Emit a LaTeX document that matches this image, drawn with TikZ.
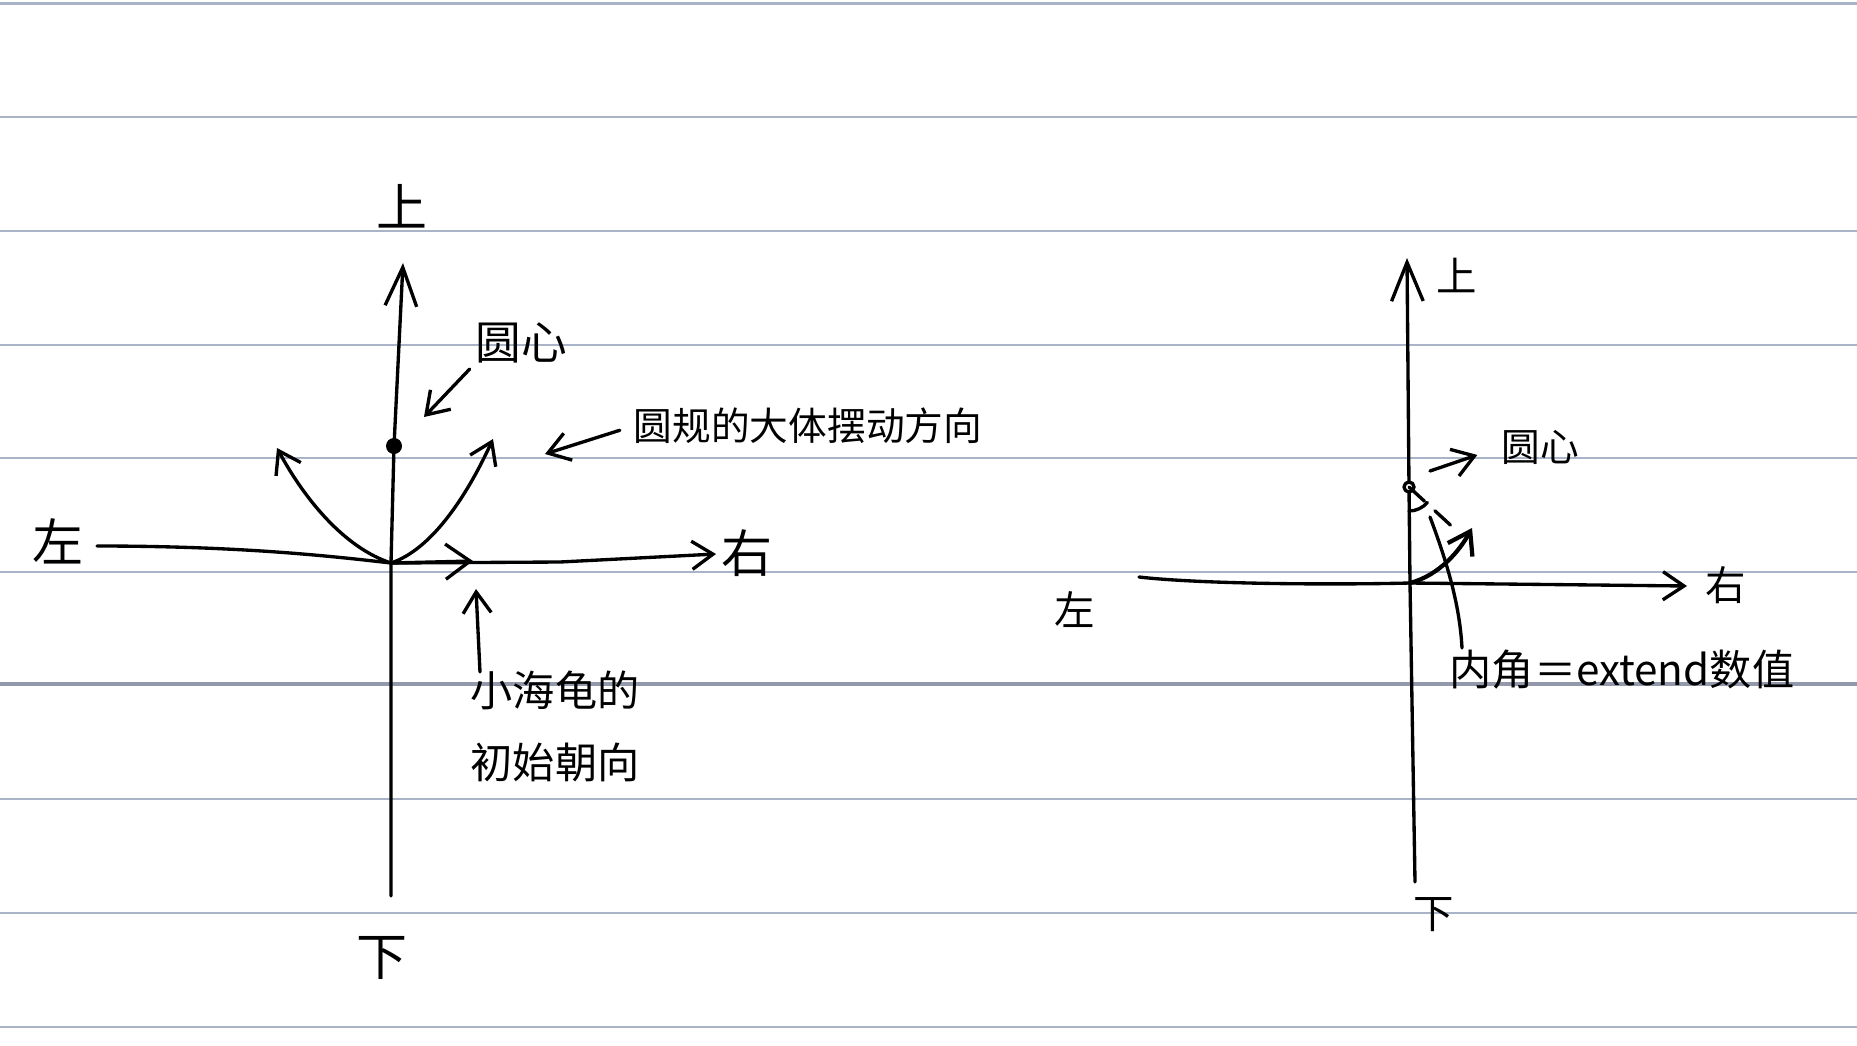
\documentclass[tikz,border=0pt]{standalone}
\usepackage{fontspec}
\setmainfont{Noto Sans CJK SC}
\usepackage{xcolor}
\usepackage{tikz}
\usetikzlibrary{arrows.meta}

\definecolor{ruleblue}{RGB}{170,180,200}

\begin{document}
\begin{tikzpicture}[x=0.01cm, y=-0.01cm,
    pen/.style={line width=0.95pt, line cap=round, line join=round},
    barb/.style={-{Straight Barb[length=6pt, width=8pt]}},
    bigbarb/.style={-{Straight Barb[length=11pt, width=9pt]}},
    axislab/.style={inner sep=0pt, font=\fontsize{14.5}{14.5}\selectfont},
    axislabs/.style={inner sep=0pt, font=\fontsize{11.5}{11.5}\selectfont},
    note/.style={inner sep=0pt, font=\fontsize{11}{11}\selectfont}]

      % Paper
      \fill[white] (0,0) rectangle (1857,1045);
      \useasboundingbox (0,0) rectangle (1857,1045);
      \foreach \yy in {3.5, 117, 231, 345, 458, 572, 799, 913, 1027}
        \draw[ruleblue, line width=0.7pt] (0,\yy) -- (1857,\yy);
      \draw[ruleblue!85!black, line width=1.1pt] (0,684) -- (1857,684);

      % Left axes
      \coordinate (o1) at (391,563);
      \coordinate (b1) at (391,896);
      \coordinate (c1) at (394,446);
      \coordinate (t1) at (403,263);
      \coordinate (l1) at (97,546);
      \coordinate (r1) at (716,554);
      \draw[pen, bigbarb] (b1) -- (o1) -- (c1) -- (t1);
      \draw[pen, barb] (l1) .. controls (240,546) and (330,556) .. (o1) -- (560,562) -- (r1);
      \fill (c1) circle[radius=8];

      \node[axislab] (up1) at (402,206) {上};
      \node[axislab] (dn1) at (382,958) {下};
      \node[axislab] (lf1) at (58,541) {左};
      \node[axislab] (rt1) at (747,553) {右};

      % Heading and swing
      \coordinate (h1) at (473,561);
      \coordinate (sl1) at (277,448);
      \coordinate (sr1) at (493,439);
      \draw[pen, -{Straight Barb[length=7pt, width=10pt]}] (o1) -- (h1);
      \draw[pen, barb] (o1) .. controls (345,548) and (305,500) .. (sl1);
      \draw[pen, barb] (o1) .. controls (430,550) and (465,500) .. (sr1);

      % Left notes
      \node[note, font=\fontsize{13}{13}\selectfont] (cen1) at (521,343) {圆心};
      \node[note, font=\fontsize{11}{11}\selectfont] (swing1) at (808,426) {圆规的大体摆动方向};
      \node[note, font=\fontsize{12}{20.5}\selectfont, align=left, anchor=north west] (turtle1) at (470,670) {小海龟的\\初始朝向};
      \coordinate (ct1) at (424,417);
      \coordinate (sw1) at (545,454);
      \coordinate (p1) at (480,672);
      \coordinate (hd1) at (476,589);
      \draw[pen, barb, shorten <=2pt] (cen1.south west) -- (ct1);
      \draw[pen, barb, shorten <=4pt] (swing1.west) -- (sw1);
      \draw[pen, barb] (p1) -- (hd1);

      % Right axes
      \coordinate (o2) at (1410,583);
      \coordinate (b2) at (1415,882);
      \coordinate (c2) at (1409,487);
      \coordinate (t2) at (1407,258);
      \coordinate (l2) at (1139,577);
      \coordinate (r2) at (1687,586);
      \draw[pen, bigbarb] (b2) -- (o2) -- (c2) -- (t2);
      \draw[pen, barb] (l2) .. controls (1200,584) and (1330,585) .. (o2) -- (r2);
      \draw[pen, fill=white] (c2) circle[radius=5];

      \node[axislabs] (up2) at (1457,275) {上};
      \node[axislabs] (dn2) at (1434,915) {下};
      \node[axislabs] (lf2) at (1075,610) {左};
      \node[axislabs] (rt2) at (1726,585) {右};

      % Turn and inner angle
      \coordinate (tip2) at (1472,528);
      \coordinate (d2) at (1458,532);
      \coordinate (a2) at (1409,511);
      \draw[pen, line width=1.2pt, barb] (o2) .. controls (1440,575) and (1460,550) .. (tip2);
      \draw[pen, dashed, dash pattern=on 6pt off 4pt] (c2) -- (d2);
      \draw[pen] (a2) arc[start angle=90, end angle=40, radius=24];

      % Right notes
      \node[note] (cen2) at (1540,447) {圆心};
      \node[note, font=\fontsize{12}{12}\selectfont] (ang2) at (1622,670) {内角＝extend数值};
      \coordinate (s2) at (1430,471);
      \coordinate (q1) at (1430,517);
      \coordinate (q2) at (1462,648);
      \draw[pen, barb, shorten >=7pt] (s2) -- (cen2.west);
      \draw[pen] (q1) .. controls (1450,570) and (1460,610) .. (q2);
\end{tikzpicture}
\end{document}
